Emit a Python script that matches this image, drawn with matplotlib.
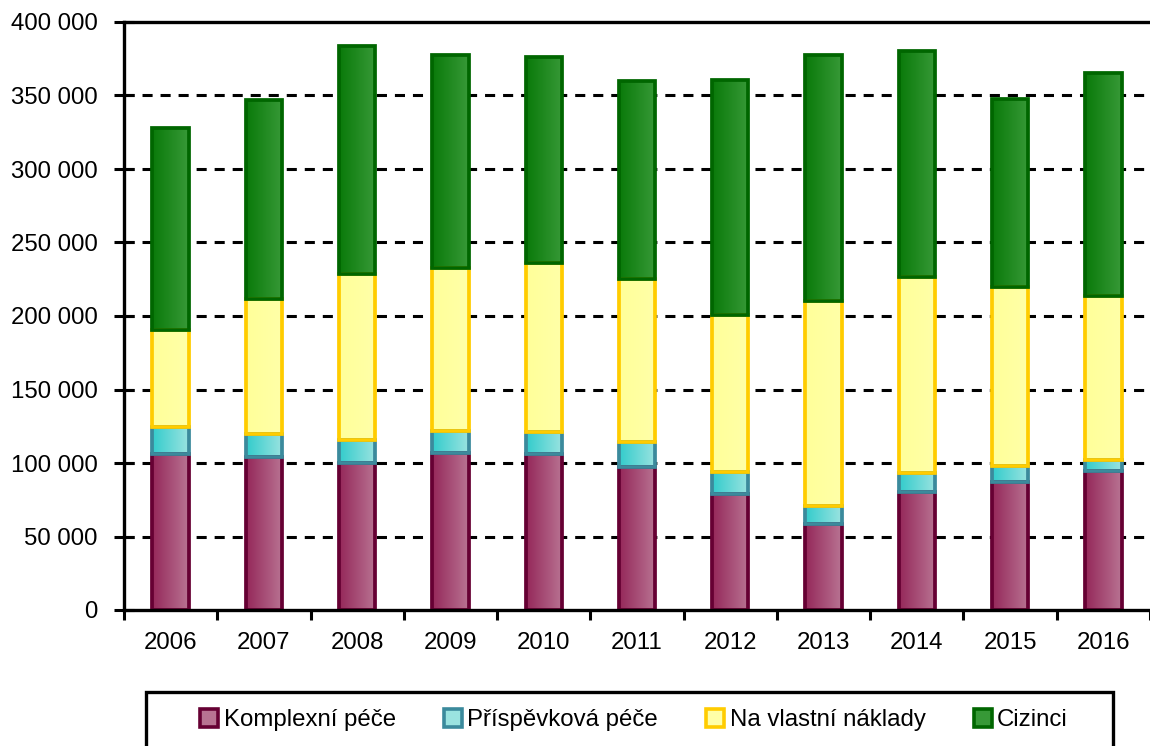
import numpy as np
import matplotlib.pyplot as plt
from matplotlib.colors import LinearSegmentedColormap
from matplotlib.patches import Rectangle
from matplotlib.ticker import FuncFormatter, MultipleLocator

plt.rcParams['font.family'] = ['Liberation Sans', 'DejaVu Sans']

years = ["2006", "2007", "2008", "2009", "2010", "2011", "2012", "2013", "2014", "2015", "2016"]
komplexni = [106000, 104000, 100000, 107000, 106000, 97500, 79000, 58500, 80000, 87000, 94500]
prispevkova = [18500, 16000, 15500, 15000, 15000, 17000, 15000, 12500, 13000, 11000, 7500]
vlastni = [66000, 91500, 113000, 110500, 115000, 110500, 106500, 139000, 133500, 121500, 111500]
cizinci = [137500, 135500, 155500, 145000, 140000, 135000, 160000, 167500, 153500, 128000, 151500]

series = [
    ("Komplexní péče", komplexni, "#95285a", "#b87392", "#660033"),
    ("Příspěvková péče", prispevkova, "#33cccc", "#9ae3e0", "#3b8a9c"),
    ("Na vlastní náklady", vlastni, "#ffff99", "#ffffa8", "#ffcc00"),
    ("Cizinci", cizinci, "#0a7a0a", "#379937", "#006600"),
]

fig = plt.figure(figsize=(11.5, 7.46), dpi=100)
ax = fig.add_axes([124 / 1150, 1 - 610 / 746, 1 - 124 / 1150, (610 - 22) / 746])

x = np.arange(len(years))
w = 0.39
bottom = np.zeros(len(years))
grad = np.linspace(0, 1, 64).reshape(1, -1)
handles = []
for name, vals, c1, c2, ec in series:
    vals = np.array(vals, dtype=float)
    cmap = LinearSegmentedColormap.from_list(name, [c1, c2])
    for xi, b, v in zip(x, bottom, vals):
        ax.imshow(grad, cmap=cmap, extent=(xi - w / 2, xi + w / 2, b, b + v),
                  aspect='auto', zorder=2, interpolation='bicubic')
    ax.bar(x, vals, w, bottom=bottom, facecolor='none', edgecolor=ec,
           linewidth=2.7, zorder=3)
    handles.append(Rectangle((0, 0), 1, 1, facecolor=c2, edgecolor=ec, linewidth=2.6))
    bottom += vals

ax.set_xlim(-0.5, -0.5 + 1026 / 93.5)
ax.set_ylim(0, 400000)
ax.yaxis.set_major_locator(MultipleLocator(50000))
ax.yaxis.set_major_formatter(FuncFormatter(lambda v, p: "{:,.0f}".format(v).replace(",", " ")))
ax.set_xticks(x)
ax.set_xticklabels(years)
ax.set_xticks(np.arange(-0.5, len(years), 1), minor=True)
ax.tick_params(axis='x', which='major', length=0, pad=16, labelsize=17.3)
ax.tick_params(axis='x', which='minor', length=7, width=2.2, direction='out')
ax.tick_params(axis='y', length=14, width=2.2, direction='inout', pad=12, labelsize=17.3)

for yv in range(50000, 400000, 50000):
    ax.axhline(yv, color='black', linewidth=2.2, linestyle=(0, (3.3, 2.6)), zorder=1)

for s in ['left', 'bottom', 'top']:
    ax.spines[s].set_linewidth(2.4)
    ax.spines[s].set_zorder(4)
ax.spines['right'].set_visible(False)

# legend box, runs off the bottom of the picture
fig.patches.append(Rectangle((146 / 1150, -0.05), (1113 - 146) / 1150, 0.05 + 1 - 692 / 746,
                             transform=fig.transFigure, facecolor='white',
                             edgecolor='black', linewidth=2.4))
leg = fig.legend(handles, [s[0] for s in series], loc='center',
                 bbox_to_anchor=(634 / 1150, 1 - 720 / 746), ncol=4,
                 fontsize=17.3, frameon=False, handlelength=0.76,
                 handleheight=0.76, handletextpad=0.22, columnspacing=2.0,
                 borderpad=0, borderaxespad=0)

fig.savefig("out.png", dpi=100)
